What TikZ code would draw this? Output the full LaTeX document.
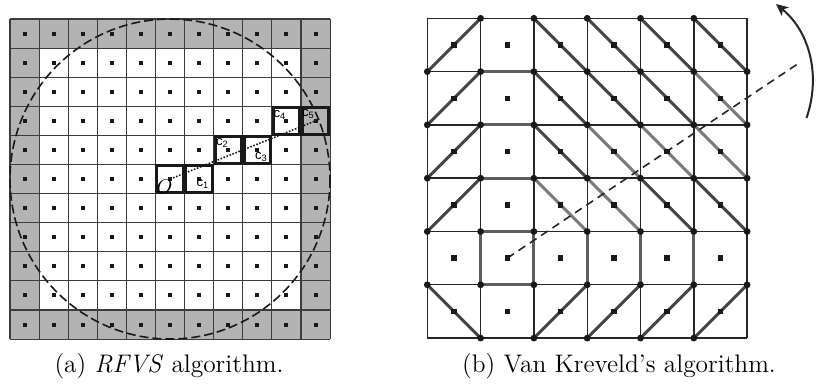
\documentclass[tikz,border=0pt]{standalone}
\usepackage{fontspec}
\newfontfamily\labfont{Liberation Sans}
\usetikzlibrary{arrows.meta}
\definecolor{cellgray}{HTML}{B3B3B3}
\definecolor{lgridc}{HTML}{3C3C3C}
\definecolor{darkseg}{HTML}{454545}
\definecolor{lightseg}{HTML}{7A7A7A}
\definecolor{edgeseg}{HTML}{5E5E5E}
\begin{document}
\begin{tikzpicture}[x=0.5pt,y=-0.5pt,
  lgrid/.style={draw=lgridc,line width=0.55pt},
  rgrid/.style={draw=black!85,line width=0.7pt},
  hbox/.style={draw=black!90,line width=1.5pt},
  cdot/.style={fill=black!90},
  vdot/.style={fill=black!90},
  dseg/.style={draw=darkseg,line width=1.5pt},
  lseg/.style={draw=lightseg,line width=1.5pt},
  eseg/.style={draw=edgeseg,line width=1.5pt},
  clab/.style={font=\labfont\fontsize{6.6}{7}\selectfont,inner sep=0pt},
  captext/.style={font=\fontsize{12.7}{15}\selectfont,inner sep=0pt,anchor=base}]
\useasboundingbox (0,0) rectangle (816,385);

% ---------------- left: RFVS ----------------
\def\Ls{29.1}
\fill[cellgray] (10,19) rectangle ({10+11*\Ls},{19+11*\Ls});
\fill[white] ({10+\Ls},{19+\Ls}) rectangle ({10+10*\Ls},{19+10*\Ls});
\foreach \k in {0,...,11} {
  \draw[lgrid] ({10+\k*\Ls},19) -- ({10+\k*\Ls},{19+11*\Ls});
  \draw[lgrid] (10,{19+\k*\Ls}) -- ({10+11*\Ls},{19+\k*\Ls});
}
\foreach \i in {0,...,10} \foreach \j in {0,...,10}
  \fill[cdot] ({10+(\i+0.5)*\Ls-2},{19+(\j+0.5)*\Ls-2}) rectangle ++(4,4);
\draw[draw=black!90,line width=0.8pt,dash pattern=on 4.5pt off 2pt]
  ({10+5.5*\Ls},{19+5.5*\Ls}) circle[radius=160];
\foreach \c/\r in {5/5,6/5,7/4,8/4,9/3,10/3}
  \draw[hbox] ({10+\c*\Ls+1.3},{19+\r*\Ls+1.3}) rectangle ({10+(\c+1)*\Ls-1.3},{19+(\r+1)*\Ls-1.3});
\coordinate (O) at ({10+5.5*\Ls},{19+5.5*\Ls});
\coordinate (C5) at ({10+10.5*\Ls},{19+3.5*\Ls});
\draw[black!90,line width=0.8pt,dash pattern=on 0.8pt off 0.8pt] (O) -- (C5);
\node[font=\fontsize{10}{11}\selectfont,inner sep=0pt] (olab) at (164.5,186.5) {$O$};
\node[clab] (c1) at (203,184) {c\textsubscript{1}};
\node[clab] (c2) at (222.5,143) {c\textsubscript{2}};
\node[clab] (c3) at (261.5,156.5) {c\textsubscript{3}};
\node[clab] (c4) at (280,114.5) {c\textsubscript{4}};
\node[clab] (c5) at (308.5,114) {c\textsubscript{5}};

% ---------------- right: Van Kreveld ----------------
\def\Rs{53.3}
\foreach \i in {0,...,6} \foreach \j in {0,...,6}
  \coordinate (v\i\j) at ({427.3+\i*\Rs},{18.3+\j*\Rs});
\foreach \k in {0,...,6} {
  \draw[rgrid] (v\k0) -- (v\k6);
  \draw[rgrid] (v0\k) -- (v6\k);
}
% "/" diagonals: cell (i,j) from (i,j+1) to (i+1,j)
\foreach \i/\j in {0/0,0/1,0/2,0/3,2/5,3/5,4/5,5/5} {
  \pgfmathtruncatemacro\ip{\i+1}\pgfmathtruncatemacro\jp{\j+1}
  \draw[dseg] (v\i\jp) -- (v\ip\j);
}
% "\" diagonals dark
\foreach \i/\j in {2/0,3/0,4/0,5/0,2/1,3/1,4/1,2/2,4/3,5/3,0/5} {
  \pgfmathtruncatemacro\ip{\i+1}\pgfmathtruncatemacro\jp{\j+1}
  \draw[dseg] (v\i\j) -- (v\ip\jp);
}
% "\" diagonals light
\foreach \i/\j in {5/1,3/2,4/2,5/2,2/3,3/3} {
  \pgfmathtruncatemacro\ip{\i+1}\pgfmathtruncatemacro\jp{\j+1}
  \draw[lseg] (v\i\j) -- (v\ip\jp);
}
% cell edges
\foreach \j in {1,...,5} \draw[eseg] (v1\j) -- (v2\j);
\foreach \i in {1,...,5} \draw[eseg] (v\i4) -- (v\i5);
% dashed ray
\coordinate (ctr) at ({427.3+1.5*\Rs},{18.3+4.5*\Rs});
\coordinate (rayend) at (801,61.7);
\draw[black!85,line width=0.8pt,dash pattern=on 4pt off 2.8pt] (ctr) -- (rayend);
% cell centre squares
\foreach \i in {0,...,5} \foreach \j in {0,...,5}
  \fill[cdot] ({427.3+(\i+0.5)*\Rs-2.7},{18.3+(\j+0.5)*\Rs-2.7}) rectangle ++(5.4,5.4);
% vertex dots
\foreach \i in {0,...,6} \foreach \j in {0,...,6} {
  \pgfmathtruncatemacro\corner{((\i==0)||(\i==6))&&((\j==0)||(\j==6))}
  \ifnum\corner=0 \fill[vdot] (v\i\j) circle[radius=3.4]; \fi
}
% rotation arrow
\coordinate (arrS) at (806.5,118);
\coordinate (arrE) at (776,4);
\draw[black!85,line width=1pt,-{Stealth[length=6pt,width=5.5pt,inset=1.6pt]}]
  (arrS) .. controls (821,76) and (810,32) .. (arrE);

% captions
\node[captext] (capa) at (169,373) {(a) \textit{RFVS} algorithm.};
\node[captext] (capb) at (619,373) {(b) Van Kreveld's algorithm.};
\end{tikzpicture}
\end{document}
